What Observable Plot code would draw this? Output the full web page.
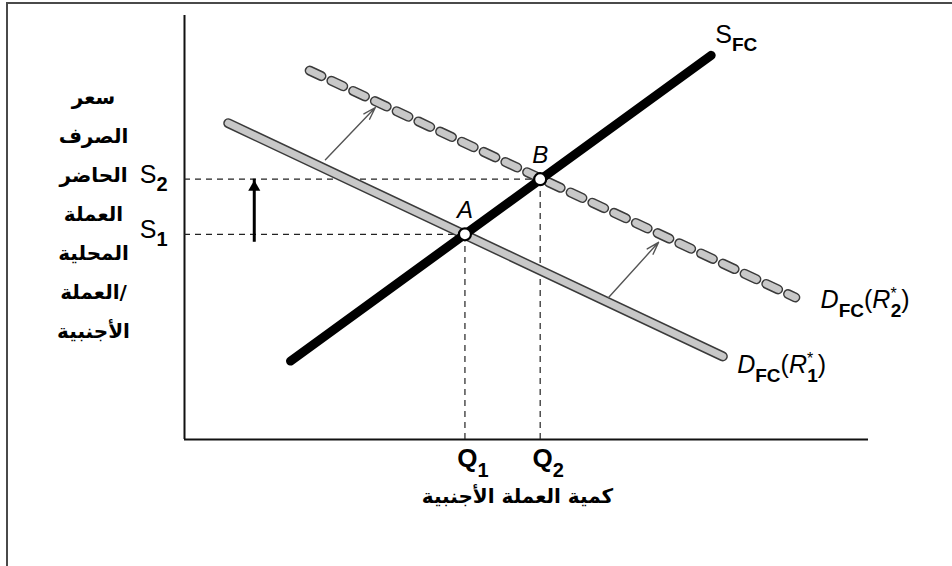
<!DOCTYPE html>
<html><head><meta charset="utf-8">
<script src="https://cdn.jsdelivr.net/npm/d3@7"></script>
<script src="https://cdn.jsdelivr.net/npm/@observablehq/plot@0.6"></script>
<style>
html,body{margin:0;padding:0;background:#fff;overflow:hidden;width:952px;height:566px;}
#frame{position:absolute;left:6px;top:2px;width:1000px;height:620px;border:2px solid #4a4a4a;box-sizing:border-box;}
#chart{position:absolute;left:0;top:0;}
</style></head><body>
<div id="frame"></div><div id="chart"></div>
<script>
// ---- data (quantity of foreign currency on x, spot exchange rate on y; 0..100 units) ----
const supplyQ = [15.5, 77];
const supplyP = [18.5, 90.6];
const demand1Q = [6.4, 78.7];
const demand1P = [74.6, 19.6];
const demand2Q = [18.3, 89.3];
const demand2P = [87.0, 33.5];
const eqLabels = ["A", "B"];
const eqQ = [41, 52];
const eqP = [48.4, 61.4];
const priceTicks = ["S_1", "S_2"];
const quantityTicks = ["Q_1", "Q_2"];
const supplyLabel = "S_FC";
const demandLabels = ["D_FC(R*_1)", "D_FC(R*_2)"];
const labelQ = [80.8, 93.0];   // where demand labels start
const labelP = [15.8, 30.9];
const supplyLabelQ = 77.6, supplyLabelP = 93.4;
const shiftFromQ = [20.6, 62.0], shiftFromP = [66.0, 33.5];
const shiftToQ = [27.9, 69.3], shiftToP = [78.3, 46.5];
const rateShiftQ = 10.2;
const yTitle = ["سعر", "الصرف", "الحاضر", "العملة", "المحلية", "/العملة", "الأجنبية"];
const xTitle = "كمية العملة الأجنبية";

// ---- tables ----
const seg = (qs, ps) => qs.map((q, i) => ({q, p: ps[i]}));
const supply = seg(supplyQ, supplyP);
const demand1 = seg(demand1Q, demand1P);
const demand2 = seg(demand2Q, demand2P);
const eq = eqLabels.map((label, i) => ({label, q: eqQ[i], p: eqP[i], pt: priceTicks[i], qt: quantityTicks[i]}));
const dLabels = demandLabels.map((t, i) => ({t, q: labelQ[i], p: labelP[i]}));
const shifts = shiftFromQ.map((q, i) => ({q1: q, p1: shiftFromP[i], q2: shiftToQ[i], p2: shiftToP[i]}));

const svg = Plot.plot({
  width: 952, height: 566,
  marginLeft: 184, marginRight: 84, marginTop: 15, marginBottom: 127,
  x: {domain: [0, 100], axis: null},
  y: {domain: [0, 100], axis: null},
  style: {fontFamily: "'Liberation Sans', Arial, sans-serif", fontSize: "25px", background: "transparent", color: "#000"},
  marks: [
    Plot.ruleX([0], {stroke: "#111", strokeWidth: 2}),
    Plot.ruleY([0], {stroke: "#111", strokeWidth: 2}),
    Plot.ruleY(eq, {y: "p", x1: () => 0, x2: "q", stroke: "#222", strokeWidth: 1.2, strokeDasharray: "6,5"}),
    Plot.ruleX(eq, {x: "q", y1: () => 0, y2: "p", stroke: "#222", strokeWidth: 1.2, strokeDasharray: "6,5"}),
    // demand 1 (solid light gray with outline)
    Plot.line(demand1, {x: "q", y: "p", stroke: "#3a3a3a", strokeWidth: 10, strokeLinecap: "round"}),
    Plot.line(demand1, {x: "q", y: "p", stroke: "#c8c8c8", strokeWidth: 7, strokeLinecap: "round"}),
    // demand 2 (chain of capsules)
    Plot.line(demand2, {x: "q", y: "p", stroke: "#3a3a3a", strokeWidth: 10, strokeLinecap: "round", strokeDasharray: "13,11"}),
    Plot.line(demand2, {x: "q", y: "p", stroke: "#c8c8c8", strokeWidth: 7, strokeLinecap: "round", strokeDasharray: "13,11"}),
    // supply
    Plot.line(supply, {x: "q", y: "p", stroke: "#000", strokeWidth: 9, strokeLinecap: "round"}),
    // shift arrows
    Plot.arrow(shifts, {x1: "q1", y1: "p1", x2: "q2", y2: "p2", stroke: "#555", strokeWidth: 1.4, headLength: 14, headAngle: 35}),
    // rate rise arrow
    Plot.ruleX([rateShiftQ], {y1: () => eqP[0], y2: () => eqP[1], stroke: "#000", strokeWidth: 3, insetTop: 8}),
    Plot.dot([rateShiftQ], {x: d => d, y: () => eqP[1], symbol: "triangle", r: 4.5, fill: "#000", dy: 8}),
    // equilibrium points
    Plot.dot(eq, {x: "q", y: "p", r: 6, fill: "#fff", stroke: "#000", strokeWidth: 2.2}),
    Plot.text(eq, {x: "q", y: "p", text: "label", dy: -16, fontStyle: "italic", fontSize: 24, lineAnchor: "bottom", textAnchor: "middle"}),
    // tick labels
    Plot.text(eq, {x: () => 0, y: "p", text: "pt", dx: -17, dy: 4, textAnchor: "end", lineAnchor: "bottom", className: "rich-tick"}),
    Plot.text(eq, {x: "q", y: () => 0, text: "qt", dx: 8, dy: 27, textAnchor: "middle", lineAnchor: "bottom", className: "rich-q"}),
    // curve labels
    Plot.text([supplyLabel], {x: () => supplyLabelQ, y: () => supplyLabelP, text: d => d, textAnchor: "start", lineAnchor: "bottom", className: "rich-s"}),
    Plot.text(dLabels, {x: "q", y: "p", text: "t", textAnchor: "start", lineAnchor: "bottom", className: "rich-d"}),
    // axis titles (Arabic)
    Plot.text([yTitle.join("\n")], {frameAnchor: "top-left", text: d => d, dx: -91, dy: 61, lineAnchor: "top", lineHeight: 1.95, textAnchor: "middle", fontFamily: "'DejaVu Sans', sans-serif", fontSize: 20, fontWeight: "bold", className: "arabic"}),
    Plot.text([xTitle], {frameAnchor: "bottom", text: d => d, dx: -9, dy: 63, lineAnchor: "bottom", textAnchor: "middle", fontFamily: "'DejaVu Sans', sans-serif", fontSize: 20, fontWeight: "bold", className: "arabic"})
  ]
});

// rich text: "_xx" -> bold subscript, "*" -> superscript
function rich(textEl, str, o) {
  const sel = d3.select(textEl);
  sel.text(null);
  let level = 0, prevSup = false, m;
  const re = /_([A-Za-z0-9]+)|\*|([^_*])/g;
  while ((m = re.exec(str))) {
    let t, size, weight, style, target, dx = 0;
    if (m[1]) { t = m[1]; size = o.sub; weight = "bold"; style = "normal"; target = o.subShift; if (prevSup) dx = -o.supW; }
    else if (m[0] === "*") { t = "*"; size = o.sup; weight = "normal"; style = "normal"; target = -o.supShift; }
    else { t = m[2]; size = o.main; weight = o.weight; style = /[A-Za-z]/.test(t) ? o.style : "normal"; target = 0; }
    const ts = sel.append("tspan").text(t).attr("font-size", size).attr("font-weight", weight).attr("font-style", style);
    if (target !== level) { ts.attr("dy", target - level); level = target; }
    if (dx) ts.attr("dx", dx);
    prevSup = m[0] === "*";
  }
}
const S = d3.select(svg);
S.selectAll("g.rich-tick text").each(function () { rich(this, this.textContent, {main: 25, sub: 20, sup: 15, subShift: 8, supShift: 9, supW: 6, weight: "normal", style: "normal"}); });
S.selectAll("g.rich-q text").each(function () { rich(this, this.textContent, {main: 26, sub: 20, sup: 15, subShift: 10, supShift: 9, supW: 6, weight: "bold", style: "normal"}); });
S.selectAll("g.rich-s text").each(function () { rich(this, this.textContent, {main: 25, sub: 19, sup: 15, subShift: 8, supShift: 9, supW: 6, weight: "normal", style: "normal"}); });
S.selectAll("g.rich-d text").each(function () { rich(this, this.textContent, {main: 25, sub: 19, sup: 16, subShift: 9, supShift: 9, supW: 6, weight: "normal", style: "italic"}); });
S.selectAll("g.arabic text").attr("direction", "rtl");
document.getElementById("chart").appendChild(svg);
</script>
</body></html>
